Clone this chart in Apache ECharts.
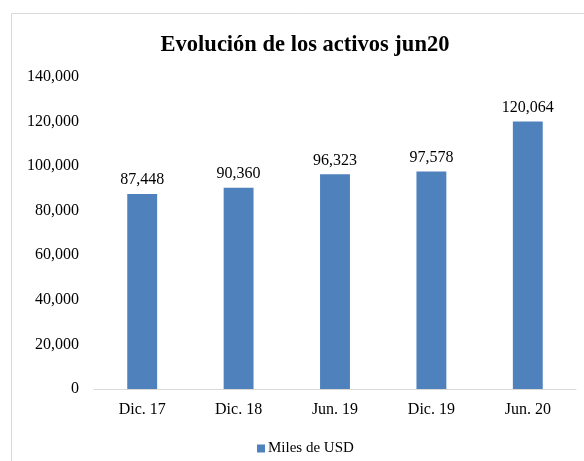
<!DOCTYPE html>
<html>
<head>
<meta charset="utf-8">
<script src="https://cdn.jsdelivr.net/npm/echarts@6/dist/echarts.min.js"></script>
<style>
    html, body { margin: 0; padding: 0; background: #fff; }
    #chart { width: 584px; height: 461px; }
</style>
</head>
<body>
<div id="chart"></div>
<script>
// datos del gráfico
const categories = ['Dic. 17', 'Dic. 18', 'Jun. 19', 'Dic. 19', 'Jun. 20'];
const activos = [87448, 90360, 96323, 97578, 120064];
const seriesName = 'Miles de USD';

const fmt = v => v.toLocaleString('en-US');
const font = '"Liberation Serif", "Times New Roman", serif';

const chart = echarts.init(document.getElementById('chart'));
chart.setOption({
    animation: false,
    textStyle: { fontFamily: font },
    graphic: [{
        type: 'rect',
        shape: { x: 11.5, y: 13.5, width: 600, height: 500 },
        style: { fill: 'none', stroke: '#d9d9d9', lineWidth: 1 },
        silent: true
    }],
    title: {
        text: 'Evolución de los activos jun20',
        left: 300,
        top: 29,
        textAlign: 'center',
        textStyle: { fontFamily: font, fontSize: 22.5, fontWeight: 'bold', color: '#000' }
    },
    legend: {
        data: [seriesName],
        top: 436,
        left: 252,
        itemWidth: 8,
        itemHeight: 8,
        itemGap: 4,
        icon: 'rect',
        textStyle: { fontFamily: font, fontSize: 15, color: '#000', padding: [0, 0, 0, -2] }
    },
    grid: { left: 94, right: 8, top: 77, bottom: 72 },
    xAxis: {
        type: 'category',
        data: categories,
        axisLine: { lineStyle: { color: '#d9d9d9', width: 1 } },
        axisTick: { show: false },
        axisLabel: { fontFamily: font, fontSize: 16, color: '#000', margin: 13 }
    },
    yAxis: {
        type: 'value',
        min: 0,
        max: 140000,
        interval: 20000,
        splitLine: { show: false },
        axisLine: { show: false },
        axisTick: { show: false },
        axisLabel: { fontFamily: font, fontSize: 16, color: '#000', margin: 15, formatter: fmt }
    },
    series: [{
        name: seriesName,
        type: 'bar',
        data: activos,
        barWidth: '31%',
        itemStyle: { color: '#4f81bd' },
        label: {
            show: true,
            position: 'top',
            distance: 6,
            fontFamily: font,
            fontSize: 16,
            color: '#000',
            formatter: p => fmt(p.value)
        }
    }]
});
</script>
</body>
</html>
